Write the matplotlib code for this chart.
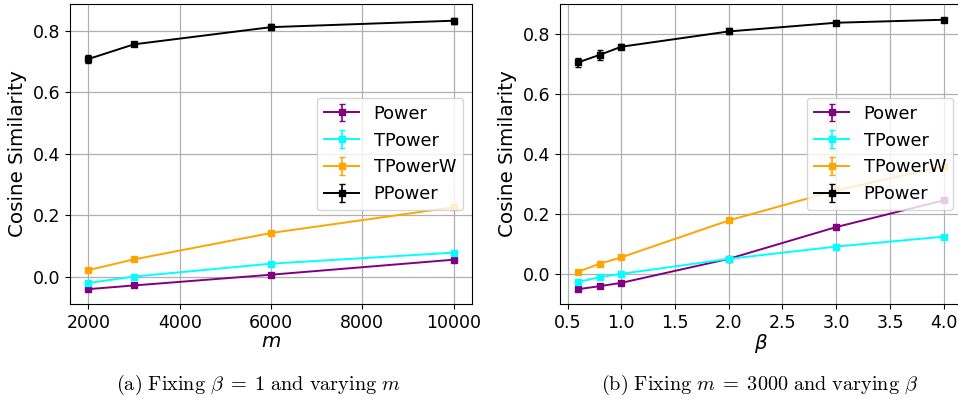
import numpy as np
import matplotlib
matplotlib.use('Agg')
import matplotlib.pyplot as plt

# (a) fixing beta = 1, varying m
m_vals = [2000, 3000, 6000, 10000]
power_m = [-0.041, -0.029, 0.006, 0.055]
tpower_m = [-0.021, 0.0, 0.042, 0.078]
tpowerw_m = [0.021, 0.056, 0.142, 0.226]
ppower_m = [0.709, 0.757, 0.813, 0.834]
power_m_err = [0.004, 0.004, 0.004, 0.004]
tpower_m_err = [0.004, 0.004, 0.004, 0.004]
tpowerw_m_err = [0.004, 0.004, 0.004, 0.004]
ppower_m_err = [0.012, 0.007, 0.010, 0.010]

# (b) fixing m = 3000, varying beta
beta_vals = [0.6, 0.8, 1.0, 2.0, 3.0, 4.0]
power_b = [-0.051, -0.041, -0.030, 0.050, 0.156, 0.245]
tpower_b = [-0.027, -0.011, 0.0, 0.050, 0.091, 0.124]
tpowerw_b = [0.007, 0.034, 0.055, 0.178, 0.278, 0.359]
ppower_b = [0.705, 0.730, 0.757, 0.808, 0.837, 0.847]
power_b_err = [0.004, 0.004, 0.004, 0.004, 0.004, 0.004]
tpower_b_err = [0.004, 0.004, 0.004, 0.004, 0.004, 0.004]
tpowerw_b_err = [0.004, 0.004, 0.004, 0.004, 0.004, 0.004]
ppower_b_err = [0.016, 0.016, 0.009, 0.010, 0.007, 0.007]

labels = ['Power', 'TPower', 'TPowerW', 'PPower']
colors = ['purple', 'cyan', 'orange', 'black']


def draw_panel(ax, x, ys, errs, xlabel):
    for y, e, lab, c in zip(ys, errs, labels, colors):
        ax.errorbar(x, y, yerr=e, label=lab, color=c, marker='s', markersize=4.5,
                    linewidth=1.4, capsize=2.5, elinewidth=1.2)
    ax.grid(True, color='#b0b0b0', linewidth=0.9)
    ax.set_axisbelow(True)
    ax.set_ylabel('Cosine Similarity', fontsize=14.3)
    ax.set_xlabel(xlabel, fontsize=14.3, labelpad=0)
    ax.tick_params(labelsize=12.5)
    ax.legend(loc='center right', fontsize=12.8)


fig = plt.figure(figsize=(9.58, 3.98), dpi=100)
ax1 = fig.add_axes([70 / 958, 94 / 398, 402 / 958, 300 / 398])
ax2 = fig.add_axes([560 / 958, 94 / 398, 402 / 958, 300 / 398])

draw_panel(ax1, m_vals, [power_m, tpower_m, tpowerw_m, ppower_m],
           [power_m_err, tpower_m_err, tpowerw_m_err, ppower_m_err], '$m$')
draw_panel(ax2, beta_vals, [power_b, tpower_b, tpowerw_b, ppower_b],
           [power_b_err, tpower_b_err, tpowerw_b_err, ppower_b_err], r'$\beta$')
ax2.set_xticks([0.5, 1.0, 1.5, 2.0, 2.5, 3.0, 3.5, 4.0])

# captions set in computer modern like the latex source
cap_kw = dict(ha='center', va='center', fontsize=14.6, math_fontfamily='cm')
fig.text(258 / 958, 13 / 398,
         r'$\mathrm{(a)\ Fixing}\ \beta\;=\;1\ \mathrm{and\ varying}\ m$', **cap_kw)
fig.text(760 / 958, 13 / 398,
         r'$\mathrm{(b)\ Fixing}\ m\;=\;3000\ \mathrm{and\ varying}\ \beta$', **cap_kw)

fig.savefig('out.png', dpi=100)
